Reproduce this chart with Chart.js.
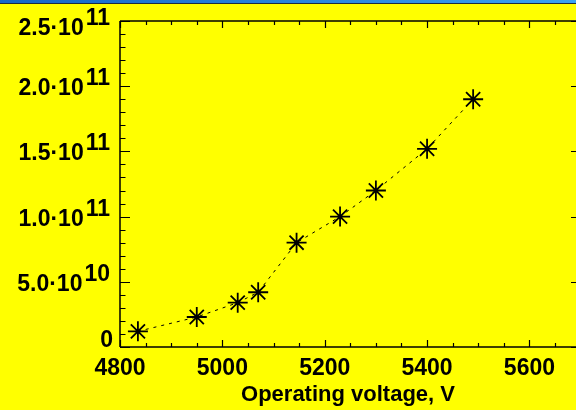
<!DOCTYPE html>
<html>
<head>
<meta charset="utf-8">
<script src="https://cdn.jsdelivr.net/npm/chart.js@4/dist/chart.umd.min.js"></script>
<style>
html,body{margin:0;padding:0;background:#ffff00;overflow:hidden;}
canvas{display:block;}
</style>
</head>
<body>
<canvas id="c" width="576" height="410"></canvas>
<script>
// ---- data ----
const xValues = [4835, 4950, 5030, 5070, 5145, 5230, 5300, 5400, 5490];
const yValues = [1.2e10, 2.3e10, 3.4e10, 4.2e10, 8.0e10, 1.0e11, 1.2e11, 1.52e11, 1.9e11];
const xTickValues = [4800, 5000, 5200, 5400, 5600];
const yTickValues = [0, 5e10, 1e11, 1.5e11, 2e11, 2.5e11];
const yTickMantissas = ['0', '5.0·10', '1.0·10', '1.5·10', '2.0·10', '2.5·10'];
const yTickExponents = ['', '10', '11', '11', '11', '11'];
const xTitle = 'Operating voltage, V';

const FONT = "'Liberation Sans', Arial, Helvetica, sans-serif";

const bgPlugin = {
  id: 'bg',
  beforeDraw(chart) {
    const ctx = chart.ctx;
    ctx.save();
    ctx.fillStyle = '#ffff00';
    ctx.fillRect(0, 0, chart.width, chart.height);
    const g = ctx.createLinearGradient(0, 0, chart.width, 0);
    g.addColorStop(0, '#1667c8');
    g.addColorStop(1, '#3aa2f2');
    ctx.fillStyle = g;
    ctx.fillRect(0, 0, chart.width, 3);
    ctx.fillStyle = '#1a2a40';
    ctx.fillRect(0, 3, chart.width, 1);
    ctx.restore();
  }
};

const axesPlugin = {
  id: 'axesBox',
  beforeDatasetsDraw(chart) {
    const ctx = chart.ctx;
    const a = chart.chartArea;
    const xs = chart.scales.x, ys = chart.scales.y;
    ctx.save();
    ctx.strokeStyle = '#000';
    ctx.lineWidth = 1.5;
    ctx.beginPath();
    ctx.moveTo(a.left, a.top); ctx.lineTo(a.right, a.top);
    ctx.moveTo(a.left, a.bottom); ctx.lineTo(a.right, a.bottom);
    ctx.moveTo(a.left, a.top); ctx.lineTo(a.left, a.bottom);
    ctx.stroke();
    ctx.lineWidth = 1.2;
    ctx.beginPath();
    for (let v = xs.min; v <= xs.max + 1e-6; v += 50) {
      const px = Math.round(xs.getPixelForValue(v)) + 0.5;
      const major = (Math.round(v) % 200) === 0;
      const len = major ? 7 : 4;
      ctx.moveTo(px, a.bottom); ctx.lineTo(px, a.bottom - len);
      ctx.moveTo(px, a.top); ctx.lineTo(px, a.top + len);
    }
    for (let i = 0; i <= 25; i++) {
      const v = i * 1e10;
      const py = Math.round(ys.getPixelForValue(v)) + 0.5;
      const major = i % 5 === 0;
      ctx.moveTo(a.left, py); ctx.lineTo(a.left + (major ? 10 : 5.5), py);
      if (major) { ctx.moveTo(chart.width, py); ctx.lineTo(chart.width - 5, py); }
    }
    ctx.stroke();
    ctx.fillStyle = '#000';
    ctx.font = 'bold 23px ' + FONT;
    ctx.textBaseline = 'alphabetic';
    ctx.textAlign = 'right';
    yTickValues.forEach((v, i) => {
      const py = ys.getPixelForValue(v);
      const base = Math.min(Math.max(py + 9, a.top + 14), a.bottom);
      const exp = yTickExponents[i];
      if (exp) {
        ctx.fillText(exp, 110, base - 10);
        const w = ctx.measureText(exp).width;
        ctx.fillText(yTickMantissas[i], 110 - w - 2, base);
      } else {
        ctx.fillText(yTickMantissas[i], 113, base);
      }
    });
    ctx.restore();
  }
};

const points = xValues.map((x, i) => ({ x: x, y: yValues[i] }));

new Chart(document.getElementById('c'), {
  type: 'scatter',
  data: {
    datasets: [{
      data: points,
      showLine: true,
      borderColor: '#000',
      borderWidth: 1,
      borderDash: [3, 5],
      pointStyle: 'star',
      pointRadius: 10,
      pointBorderWidth: 1.8,
      pointBorderColor: '#000',
      pointBackgroundColor: '#000',
      clip: false
    }]
  },
  options: {
    responsive: false,
    devicePixelRatio: 1,
    animation: false,
    layout: { autoPadding: false, padding: { top: 21, right: 0, bottom: 0, left: 0 } },
    plugins: { legend: { display: false }, tooltip: { enabled: false } },
    scales: {
      x: {
        type: 'linear',
        min: 4800,
        max: 5691,
        grid: { display: false },
        border: { display: false },
        ticks: {
          stepSize: 200,
          includeBounds: false,
          autoSkip: false,
          maxRotation: 0,
          padding: 0,
          color: '#000',
          font: { family: FONT, size: 23, weight: 'bold' },
          callback: (v) => xTickValues.includes(v) ? String(v) : ''
        },
        title: {
          display: true,
          text: xTitle,
          color: '#000',
          font: { family: FONT, size: 22, weight: 'bold' },
          padding: { top: 0, bottom: 2 }
        },
        afterFit: (s) => { s.height = 63; s.paddingLeft = 0; s.paddingRight = 0; }
      },
      y: {
        type: 'linear',
        min: 0,
        max: 2.5e11,
        grid: { display: false },
        border: { display: false },
        ticks: { display: false, stepSize: 5e10 },
        afterFit: (s) => { s.width = 120; }
      }
    }
  },
  plugins: [bgPlugin, axesPlugin]
});
</script>
</body>
</html>
